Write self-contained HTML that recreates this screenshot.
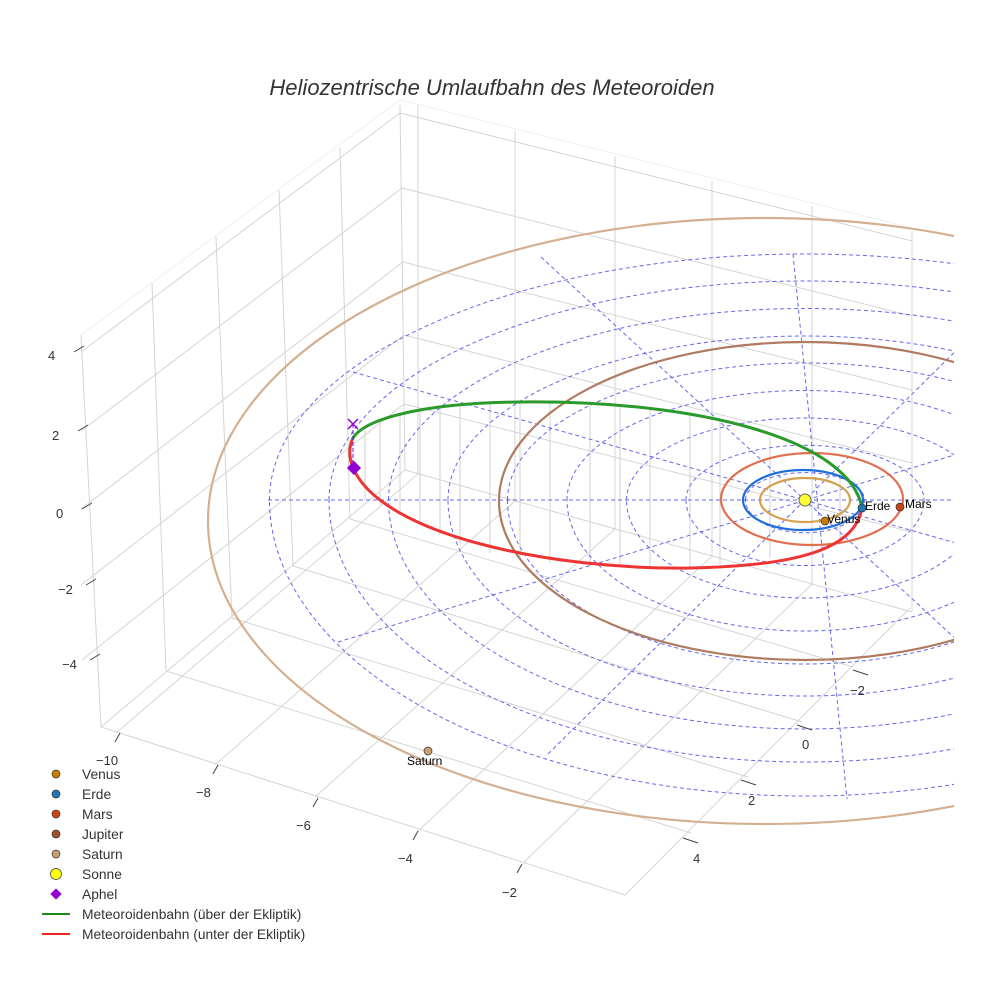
<!DOCTYPE html>
<html><head><meta charset="utf-8"><style>
body{margin:0;background:#fff}
svg{display:block;font-family:"Liberation Sans",sans-serif}
</style></head><body>
<svg width="984" height="984" viewBox="0 0 984 984" xmlns="http://www.w3.org/2000/svg">
<defs><clipPath id="c"><rect x="0" y="0" width="954" height="984"/></clipPath></defs>
<rect width="984" height="984" fill="#fff"/>
<text x="492" y="95" text-anchor="middle" font-size="22" font-style="italic" fill="#333">Heliozentrische Umlaufbahn des Meteoroiden</text>
<g stroke="#d4d4d4" stroke-width="1" fill="none">
<!-- box top -->
<line x1="81" y1="335" x2="400" y2="100" stroke="#eee"/>
<line x1="400" y1="100" x2="912" y2="228" stroke="#eee"/>
<!-- left wall -->
<line x1="81" y1="335" x2="101" y2="727"/>
<line x1="152" y1="283" x2="166" y2="671"/>
<line x1="216" y1="237" x2="232" y2="618"/>
<line x1="279" y1="190" x2="293" y2="566"/>
<line x1="340" y1="147" x2="350" y2="519"/>
<line x1="400" y1="105" x2="405" y2="470"/>
<line x1="81" y1="352" x2="400" y2="113"/>
<line x1="81" y1="431" x2="402" y2="188"/>
<line x1="81" y1="509" x2="403" y2="262"/>
<line x1="81" y1="585" x2="404" y2="335"/>
<line x1="82" y1="660" x2="404" y2="404"/>
<line x1="101" y1="727" x2="405" y2="470"/>
<!-- back wall -->
<line x1="400" y1="113" x2="912" y2="241"/>
<line x1="402" y1="188" x2="912" y2="316"/>
<line x1="403" y1="262" x2="912" y2="390"/>
<line x1="404" y1="335" x2="912" y2="463"/>
<line x1="404" y1="404" x2="912" y2="532"/>
<line x1="405" y1="470" x2="912" y2="612"/>
<line x1="418" y1="105" x2="418" y2="474"/>
<line x1="515" y1="131" x2="515" y2="501"/>
<line x1="615" y1="156" x2="615" y2="529"/>
<line x1="712" y1="181" x2="712" y2="556"/>
<line x1="812" y1="206" x2="812" y2="584"/>
<line x1="912" y1="231" x2="912" y2="612"/>
<!-- floor -->
<line x1="101" y1="727" x2="625" y2="895"/>
<line x1="625" y1="895" x2="910" y2="608"/>
<line x1="166" y1="671" x2="691" y2="833"/>
<line x1="232" y1="618" x2="748" y2="777"/>
<line x1="293" y1="566" x2="802" y2="722"/>
<line x1="350" y1="519" x2="853" y2="667"/>
<line x1="116" y1="733" x2="418" y2="474"/>
<line x1="215" y1="765" x2="515" y2="501"/>
<line x1="315" y1="797" x2="615" y2="529"/>
<line x1="417" y1="832" x2="712" y2="556"/>
<line x1="523" y1="863" x2="812" y2="584"/>
</g>
<!-- droplines -->
<g stroke="#d0d0d0" stroke-width="1">
<line x1="365" y1="430" x2="365" y2="500"/><line x1="380" y1="420" x2="380" y2="505"/>
<line x1="400" y1="413" x2="400" y2="515"/><line x1="420" y1="409" x2="420" y2="525"/>
<line x1="440" y1="406" x2="440" y2="535"/><line x1="460" y1="404" x2="460" y2="545"/>
<line x1="490" y1="403" x2="490" y2="553"/><line x1="520" y1="402" x2="520" y2="558"/>
<line x1="550" y1="402" x2="550" y2="563"/><line x1="590" y1="403" x2="590" y2="566"/>
<line x1="620" y1="405" x2="620" y2="567"/><line x1="650" y1="407" x2="650" y2="568"/>
<line x1="690" y1="412" x2="690" y2="568"/><line x1="720" y1="420" x2="720" y2="565"/>
<line x1="770" y1="437" x2="770" y2="558"/><line x1="840" y1="470" x2="840" y2="545"/>
</g>
<g clip-path="url(#c)">
<g stroke="#6666ee" stroke-width="1" stroke-dasharray="4,3" fill="none">
<path d="M745.5,500 A59.5,27.4 0 0 1 864.5,500 A59.5,32.7 0 0 1 745.5,500"/>
<path d="M686,500 A119,54.7 0 0 1 924,500 A119,65.5 0 0 1 686,500"/>
<path d="M626.5,500 A178.5,82 0 0 1 983.5,500 A178.5,98 0 0 1 626.5,500"/>
<path d="M567,500 A238,109.5 0 0 1 1043,500 A238,131 0 0 1 567,500"/>
<path d="M507.5,500 A297.5,137 0 0 1 1102.5,500 A297.5,164 0 0 1 507.5,500"/>
<path d="M448,500 A357,164 0 0 1 1162,500 A357,196 0 0 1 448,500"/>
<path d="M388.5,500 A416.5,191.5 0 0 1 1221.5,500 A416.5,229 0 0 1 388.5,500"/>
<path d="M329,500 A476,219 0 0 1 1281,500 A476,262 0 0 1 329,500"/>
<path d="M269.5,500 A535.5,246 0 0 1 1340.5,500 A535.5,296 0 0 1 269.5,500"/>
<line x1="268" y1="500" x2="984" y2="500"/>
<line x1="793" y1="254" x2="847" y2="799"/>
<line x1="541" y1="257" x2="984" y2="665"/>
<line x1="353" y1="372" x2="984" y2="551"/>
<line x1="338" y1="642" x2="984" y2="446"/>
<line x1="548" y1="754" x2="984" y2="323"/>
</g>
<g fill="none" stroke-width="2.2">
<ellipse cx="805" cy="500" rx="45" ry="22" stroke="#d4a050"/>
<ellipse cx="803" cy="500" rx="60" ry="30" stroke="#1e6fd9"/>
<ellipse cx="812" cy="499" rx="91" ry="46" stroke="#e07050"/>
<ellipse cx="805" cy="501" rx="306" ry="159" stroke="#b07a60"/>
<ellipse cx="765" cy="521" rx="557" ry="303" stroke="#d4b090"/>
</g>
</g>
<path d="M862,508 C850,440 700,400 520,402 C420,403 360,420 352,440" fill="none" stroke="#2a9a2a" stroke-width="3"/>
<path d="M352,440 C348,450 350,462 354,470 C385,535 550,570 690,568 C800,566 852,548 861,512" fill="none" stroke="#ee3333" stroke-width="3"/>
<line x1="353" y1="424" x2="353" y2="468" stroke="#9400d3" stroke-dasharray="4,2" stroke-width="1"/>
<g stroke="#9400d3" stroke-width="1.5"><line x1="348" y1="419" x2="358" y2="429"/><line x1="358" y1="419" x2="348" y2="429"/></g>
<rect x="349" y="463" width="10" height="10" fill="#9400d3" transform="rotate(45 354 468)"/>
<circle cx="805" cy="500" r="6" fill="#ffff33" stroke="#666" stroke-width="1"/>
<circle cx="825" cy="521" r="4" fill="#cc7a00" stroke="#333" stroke-width="0.7"/>
<circle cx="862" cy="508" r="4" fill="#1f77b4" stroke="#333" stroke-width="0.7"/>
<circle cx="900" cy="507" r="4" fill="#cc4411" stroke="#333" stroke-width="0.7"/>
<circle cx="428" cy="751" r="4" fill="#c8a070" stroke="#333" stroke-width="0.7"/>
<g font-size="12" fill="#000">
<text x="827" y="523">Venus</text><text x="865" y="510">Erde</text><text x="905" y="508">Mars</text>
<text x="407" y="765">Saturn</text>
</g>
<g font-size="13" fill="#333">
<text x="48" y="360">4</text><text x="52" y="440">2</text><text x="56" y="518">0</text>
<text x="58" y="594">−2</text><text x="62" y="669">−4</text>
<text x="96" y="765">−10</text><text x="196" y="797">−8</text><text x="296" y="830">−6</text>
<text x="398" y="863">−4</text><text x="502" y="897">−2</text>
<text x="850" y="695">−2</text><text x="802" y="749">0</text><text x="748" y="805">2</text><text x="693" y="863">4</text>
</g>
<g stroke="#444" stroke-width="1">
<line x1="74" y1="352" x2="84" y2="346"/><line x1="78" y1="431" x2="88" y2="425"/>
<line x1="82" y1="509" x2="92" y2="503"/><line x1="86" y1="585" x2="96" y2="579"/>
<line x1="90" y1="660" x2="100" y2="654"/>
<line x1="115" y1="742" x2="120" y2="733"/><line x1="213" y1="774" x2="218" y2="765"/>
<line x1="313" y1="807" x2="318" y2="798"/><line x1="413" y1="840" x2="418" y2="831"/>
<line x1="517" y1="873" x2="522" y2="864"/>
<line x1="853" y1="670" x2="868" y2="675"/><line x1="797" y1="725" x2="812" y2="730"/>
<line x1="741" y1="780" x2="756" y2="785"/><line x1="683" y1="838" x2="698" y2="843"/>
</g>
<g font-size="13.8" fill="#333">
<circle cx="56" cy="774" r="4" fill="#cc7a00" stroke="#333" stroke-width="0.7"/><text x="82" y="779">Venus</text>
<circle cx="56" cy="794" r="4" fill="#1f77b4" stroke="#333" stroke-width="0.7"/><text x="82" y="799">Erde</text>
<circle cx="56" cy="814" r="4" fill="#cc4411" stroke="#333" stroke-width="0.7"/><text x="82" y="819">Mars</text>
<circle cx="56" cy="834" r="4" fill="#a0522d" stroke="#333" stroke-width="0.7"/><text x="82" y="839">Jupiter</text>
<circle cx="56" cy="854" r="4" fill="#c8a070" stroke="#333" stroke-width="0.7"/><text x="82" y="859">Saturn</text>
<circle cx="56" cy="874" r="5.5" fill="#ffff00" stroke="#333" stroke-width="0.7"/><text x="82" y="879">Sonne</text>
<rect x="52" y="890" width="8" height="8" fill="#9400d3" transform="rotate(45 56 894)"/><text x="82" y="899">Aphel</text>
<line x1="42" y1="914" x2="70" y2="914" stroke="#1a8a1a" stroke-width="2"/><text x="82" y="919">Meteoroidenbahn (über der Ekliptik)</text>
<line x1="42" y1="934" x2="70" y2="934" stroke="#ee2222" stroke-width="2"/><text x="82" y="939">Meteoroidenbahn (unter der Ekliptik)</text>
</g>
</svg>
</body></html>
